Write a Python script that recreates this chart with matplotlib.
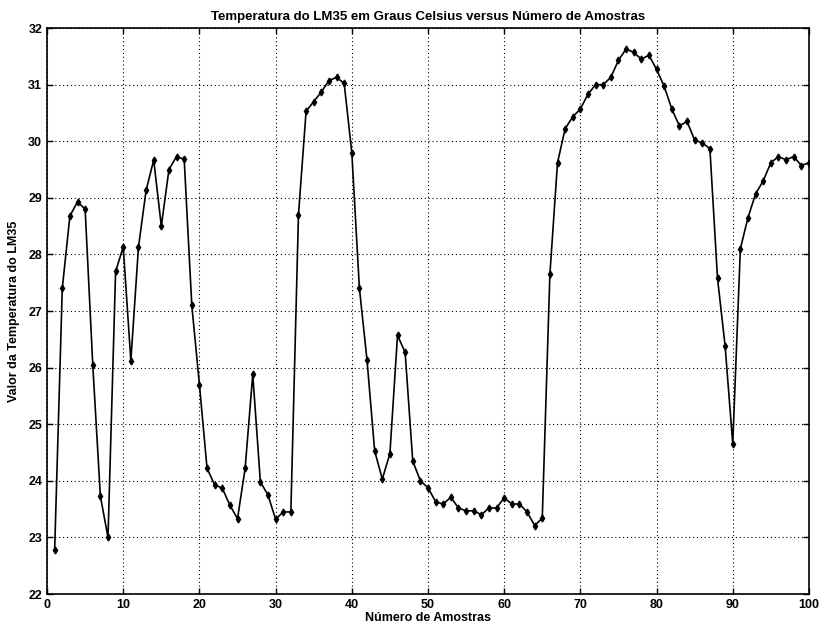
"""LM35 temperature readings versus sample number."""
import matplotlib
matplotlib.use("Agg")
import matplotlib.pyplot as plt
import numpy as np

plt.rcParams["font.family"] = ["Liberation Sans Narrow", "Liberation Sans", "DejaVu Sans"]
plt.rcParams["font.weight"] = "bold"

amostras = np.arange(1, 101)
temperatura = [
    22.78, 27.40, 28.68, 28.93, 28.80, 26.05, 23.73, 23.00, 27.70, 28.13,
    26.12, 28.13, 29.13, 29.67, 28.50, 29.50, 29.73, 29.68, 27.10, 25.70,
    24.22, 23.93, 23.87, 23.57, 23.33, 24.22, 25.88, 23.98, 23.75, 23.32,
    23.45, 23.45, 28.70, 30.53, 30.70, 30.87, 31.07, 31.13, 31.02, 29.80,
    27.40, 26.13, 24.53, 24.03, 24.48, 26.57, 26.27, 24.35, 24.00, 23.88,
    23.63, 23.59, 23.71, 23.52, 23.47, 23.47, 23.40, 23.52, 23.52, 23.70,
    23.59, 23.59, 23.45, 23.21, 23.34, 27.65, 29.62, 30.22, 30.43, 30.57,
    30.83, 31.00, 31.00, 31.13, 31.43, 31.63, 31.57, 31.45, 31.52, 31.27,
    30.97, 30.57, 30.27, 30.35, 30.02, 29.97, 29.87, 27.58, 26.38, 24.65,
    28.10, 28.65, 29.07, 29.30, 29.62, 29.73, 29.67, 29.73, 29.57, 29.62,
]
x_ticks = np.arange(0, 101, 10)
y_ticks = np.arange(22, 33, 1)

fig = plt.figure(figsize=(8.21, 6.27), dpi=100)
ax = fig.add_axes([0.0573, 0.0526, 0.928, 0.9027])

ax.plot(amostras, temperatura, color="black", linewidth=1.2,
        marker="d", markersize=3.5, markerfacecolor="black")

ax.set_xlim(0, 100)
ax.set_ylim(22, 32)
ax.set_xticks(x_ticks)
ax.set_yticks(y_ticks)
ax.tick_params(direction="in", labelsize=9, width=1, length=4, top=True, right=True)
for lbl in ax.get_xticklabels() + ax.get_yticklabels():
    lbl.set_fontweight("bold")
ax.grid(True, color="black", linestyle=(0, (1, 2.5)), linewidth=0.8)
for s in ax.spines.values():
    s.set_linewidth(1.2)

ax.set_title("Temperatura do LM35 em Graus Celsius versus Número de Amostras",
             fontsize=9.5, fontweight="bold", pad=6)
ax.set_xlabel("Número de Amostras", fontsize=9, fontweight="bold", labelpad=1)
ax.set_ylabel("Valor da Temperatura do LM35", fontsize=9, fontweight="bold", labelpad=6)

fig.savefig("out.png", dpi=100)
plt.close(fig)
